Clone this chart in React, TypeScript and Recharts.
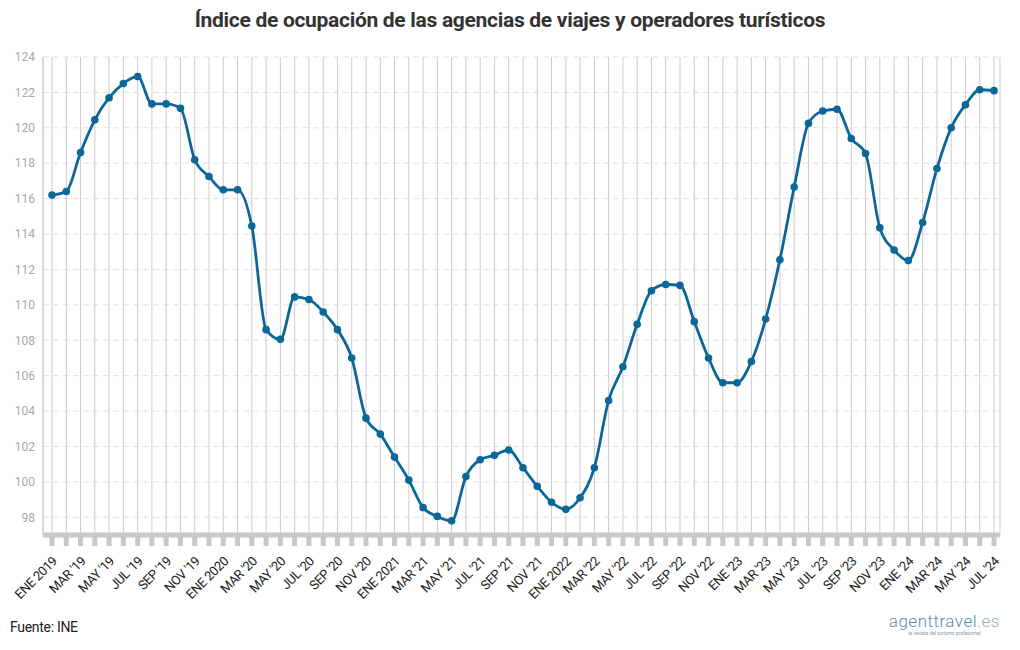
import { LineChart, Line, XAxis, YAxis, CartesianGrid } from "recharts";

const months = [
  "ENE 2019", "FEB '19", "MAR '19", "ABR '19", "MAY '19", "JUN '19", "JUL '19", "AGO '19", "SEP '19", "OCT '19", "NOV '19", "DIC '19",
  "ENE 2020", "FEB '20", "MAR '20", "ABR '20", "MAY '20", "JUN '20", "JUL '20", "AGO '20", "SEP '20", "OCT '20", "NOV '20", "DIC '20",
  "ENE 2021", "FEB '21", "MAR '21", "ABR '21", "MAY '21", "JUN '21", "JUL '21", "AGO '21", "SEP '21", "OCT '21", "NOV '21", "DIC '21",
  "ENE 2022", "FEB '22", "MAR '22", "ABR '22", "MAY '22", "JUN '22", "JUL '22", "AGO '22", "SEP '22", "OCT '22", "NOV '22", "DIC '22",
  "ENE '23", "FEB '23", "MAR '23", "ABR '23", "MAY '23", "JUN '23", "JUL '23", "AGO '23", "SEP '23", "OCT '23", "NOV '23", "DIC '23",
  "ENE '24", "FEB '24", "MAR '24", "ABR '24", "MAY '24", "JUN '24", "JUL '24",
];

const indice = [
  116.2, 116.4, 118.6, 120.45, 121.7, 122.5, 122.9, 121.35, 121.35, 121.1, 118.2, 117.25,
  116.5, 116.5, 114.45, 108.6, 108.05, 110.45, 110.3, 109.6, 108.6, 107.0, 103.6, 102.7,
  101.4, 100.1, 98.55, 98.05, 97.8, 100.3, 101.25, 101.5, 101.8, 100.8, 99.75, 98.85,
  98.45, 99.1, 100.8, 104.6, 106.5, 108.9, 110.8, 111.15, 111.1, 109.05, 107.0, 105.6,
  105.6, 106.8, 109.2, 112.55, 116.65, 120.25, 120.95, 121.05, 119.4, 118.55, 114.35, 113.1,
  112.5, 114.65, 117.7, 120.0, 121.3, 122.15, 122.1,
];

const yTicks = [98, 100, 102, 104, 106, 108, 110, 112, 114, 116, 118, 120, 122, 124];

const data = months.map((m, i) => ({ mes: m, valor: indice[i] }));

const LINE = "#0b6797";

const MonthTick = (props: any) => {
  const { x, y, payload, index } = props;
  const lx = x + 6;
  const ly = y + 19;
  return (
    <g>
      <rect x={x - 2.5} y={y - 8} width={5} height={11} fill="#c8c8c8" />
      {index % 2 === 0 && (
        <text
          x={lx}
          y={ly}
          transform={`rotate(-45, ${lx}, ${ly})`}
          textAnchor="end"
          fontSize={13}
          fontFamily="Roboto, sans-serif"
          fill="#222"
          style={{ letterSpacing: "-0.4px" }}
        >
          {payload.value}
        </text>
      )}
    </g>
  );
};

export default function App() {
  return (
    <div style={{ position: "absolute", left: 0, top: 0, width: 1020, height: 650, background: "#fff", fontFamily: "Roboto, sans-serif" }}>
      <div
        style={{
          position: "absolute",
          top: 8,
          left: 0,
          width: 1020,
          textAlign: "center",
          fontSize: 21,
          fontWeight: 700,
          color: "#333",
          letterSpacing: "-0.3px",
        }}
      >
        Índice de ocupación de las agencias de viajes y operadores turísticos
      </div>
      <LineChart
        width={1020}
        height={650}
        data={data}
        margin={{ top: 57, right: 20, left: 0, bottom: 50 }}
      >
        <CartesianGrid vertical={false} stroke="#e2e2e2" strokeDasharray="6 4" />
        <CartesianGrid horizontal={false} stroke="#cccccc" strokeDasharray="" />
        <XAxis
          dataKey="mes"
          interval={0}
          tick={<MonthTick />}
          tickLine={false}
          axisLine={{ stroke: "#c8c8c8", strokeWidth: 5 }}
          height={65}
          padding={{ left: 9, right: 6 }}
        />
        <YAxis
          domain={[97, 124]}
          ticks={yTicks}
          width={43}
          tickLine={false}
          axisLine={{ stroke: "#cccccc" }}
          tick={{ fontSize: 12, fill: "#a8a8a8", fontFamily: "Roboto, sans-serif" }}
        />
        <Line
          type="monotone"
          dataKey="valor"
          stroke={LINE}
          strokeWidth={2.8}
          dot={{ r: 3.8, fill: LINE, stroke: LINE, strokeWidth: 0 }}
          isAnimationActive={false}
        />
      </LineChart>
      <div style={{ position: "absolute", left: 10, top: 619, fontSize: 14, color: "#222", letterSpacing: "-0.3px" }}>
        Fuente: INE
      </div>
      <div style={{ position: "absolute", right: 20, top: 612, textAlign: "center", color: "#5b8aa6" }}>
        <div style={{ fontSize: 17, fontWeight: 300, letterSpacing: "0.5px", lineHeight: "18px" }}>
          agenttravel<span style={{ color: "#8fb0c4" }}>.es</span>
        </div>
        <div style={{ fontSize: 5, color: "#8899a6", lineHeight: "6px" }}>la revista del turismo profesional</div>
      </div>
    </div>
  );
}
